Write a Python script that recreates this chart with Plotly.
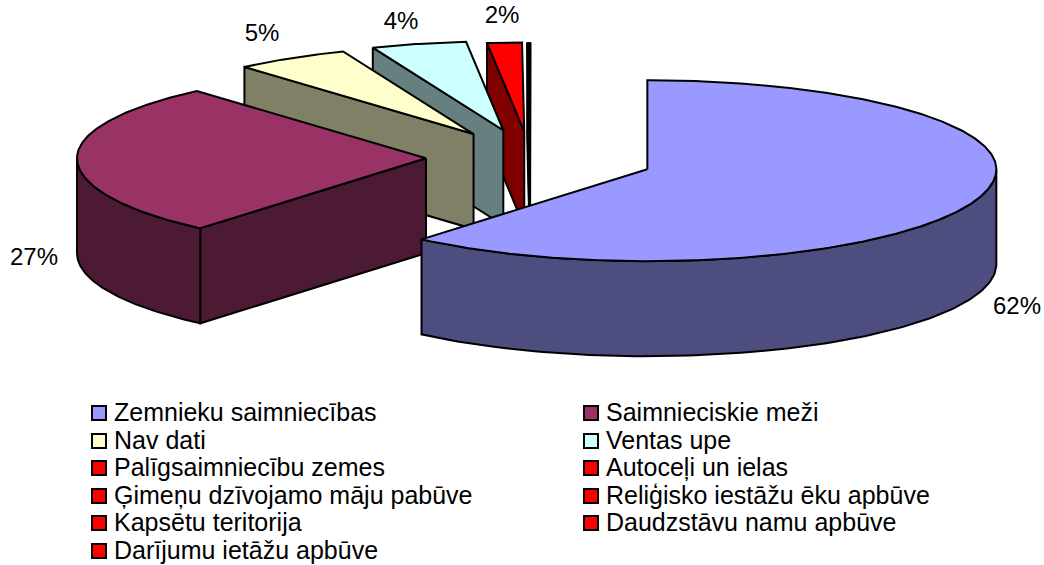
import numpy as np
import plotly.graph_objects as go

categories = ["Zemnieku saimniecības", "Saimnieciskie meži", "Nav dati", "Ventas upe",
              "Palīgsaimniecību zemes", "Autoceļi un ielas", "Ģimeņu dzīvojamo māju pabūve",
              "Reliģisko iestāžu ēku apbūve", "Kapsētu teritorija", "Daudzstāvu namu apbūve",
              "Darījumu ietāžu apbūve"]
values = [61.2, 27.4, 5.3, 4.4, 1.6, 0.02, 0.02, 0.02, 0.02, 0.02, 0.02]
labels = ["62%", "27%", "5%", "4%", "2%"]
colors = ["#9999FF", "#993366", "#FFFFCC", "#CCFFFF"] + ["#FF0000"] * 7
sides = ["#4D4D80", "#4D1A33", "#808066", "#668080"] + ["#800000"] * 7
explode = [125, 104, 108, 110, 102, 102, 102, 102, 102, 102, 102]
label_x = [1017, 34, 262, 401, 502]
label_y = [308, 259, 35, 23, 17]

OX, OY = 530, 158
RX, RY_BACK, RY_FRONT, DEPTH, ELL = 349, 89, 92, 95, 0.26

def project(cx, cy, deg):
    t = np.radians(deg)
    s, c = np.sin(t), np.cos(t)
    ry = np.where(c >= 0, RY_BACK, RY_FRONT)
    return cx + RX * s, cy - ry * c

fig = go.Figure()
def poly(x, y, fill):
    fig.add_trace(go.Scatter(x=list(x), y=list(y), mode="lines", fill="toself", fillcolor=fill,
                             line=dict(color="black", width=2, shape="linear"),
                             hoverinfo="skip", showlegend=False))

edges = np.concatenate([[0], np.cumsum(values) * 3.6])
slices = []
for i, v in enumerate(values):
    a, b = edges[i], edges[i + 1]
    mid = np.radians((a + b) / 2)
    cx = OX + explode[i] * np.sin(mid)
    cy = OY - explode[i] * ELL * np.cos(mid)
    slices.append((i, a, b, cx, cy))

# back to front: the thin remaining slices, then red ... purple, blue last
order = list(range(len(values) - 1, 0, -1)) + [0]
for i in order:
    _, a, b, cx, cy = slices[i]
    # radial faces that look towards the viewer
    if np.sin(np.radians(a)) < -1e-6:
        px, py = project(cx, cy, a)
        poly([cx, px, px, cx, cx], [cy, py, py + DEPTH, cy + DEPTH, cy], sides[i])
    if np.sin(np.radians(b)) > 1e-6:
        px, py = project(cx, cy, b)
        poly([cx, px, px, cx, cx], [cy, py, py + DEPTH, cy + DEPTH, cy], sides[i])
    # outer wall, front part only
    lo, hi = max(a, 90), min(b, 270)
    if hi > lo:
        th = np.linspace(lo, hi, 120)
        px, py = project(cx, cy, th)
        poly(np.r_[px, px[::-1], px[0]], np.r_[py, py[::-1] + DEPTH, py[0]], sides[i])
    # top face
    th = np.linspace(a, b, max(3, int((b - a) * 2)))
    px, py = project(cx, cy, th)
    poly(np.r_[cx, px, cx], np.r_[cy, py, cy], colors[i])

label_font = dict(family="Liberation Sans, Arial, sans-serif", size=24, color="black")
legend_font = dict(family="Liberation Sans, Arial, sans-serif", size=25, color="black")

# percentage labels
fig.add_trace(go.Scatter(x=label_x, y=label_y, mode="text", text=labels,
                         textposition="middle center", textfont=label_font, hoverinfo="skip", showlegend=False))

# legend, two columns
col_x = [99, 591]
row_y = [413, 441, 468, 496, 523, 551]
lx = [col_x[i % 2] for i in range(len(categories))]
ly = [row_y[i // 2] for i in range(len(categories))]
fig.add_trace(go.Scatter(x=lx, y=ly, mode="markers",
                         marker=dict(symbol="square", size=14, color=colors, line=dict(color="black", width=2)),
                         hoverinfo="skip", showlegend=False))
fig.add_trace(go.Scatter(x=[v + 15 for v in lx], y=[v + 2 for v in ly], mode="text", text=categories,
                         textposition="middle right", textfont=legend_font,
                         hoverinfo="skip", showlegend=False))

fig.update_layout(width=1044, height=565, margin=dict(l=0, r=0, t=0, b=0), showlegend=False,
                  paper_bgcolor="white", plot_bgcolor="white",
                  xaxis=dict(range=[0, 1044], visible=False, fixedrange=True),
                  yaxis=dict(range=[565, 0], visible=False, fixedrange=True))
fig.write_html("out.html", config={"displayModeBar": False},
               post_script="document.body.style.margin='0';document.body.style.overflow='hidden';")
